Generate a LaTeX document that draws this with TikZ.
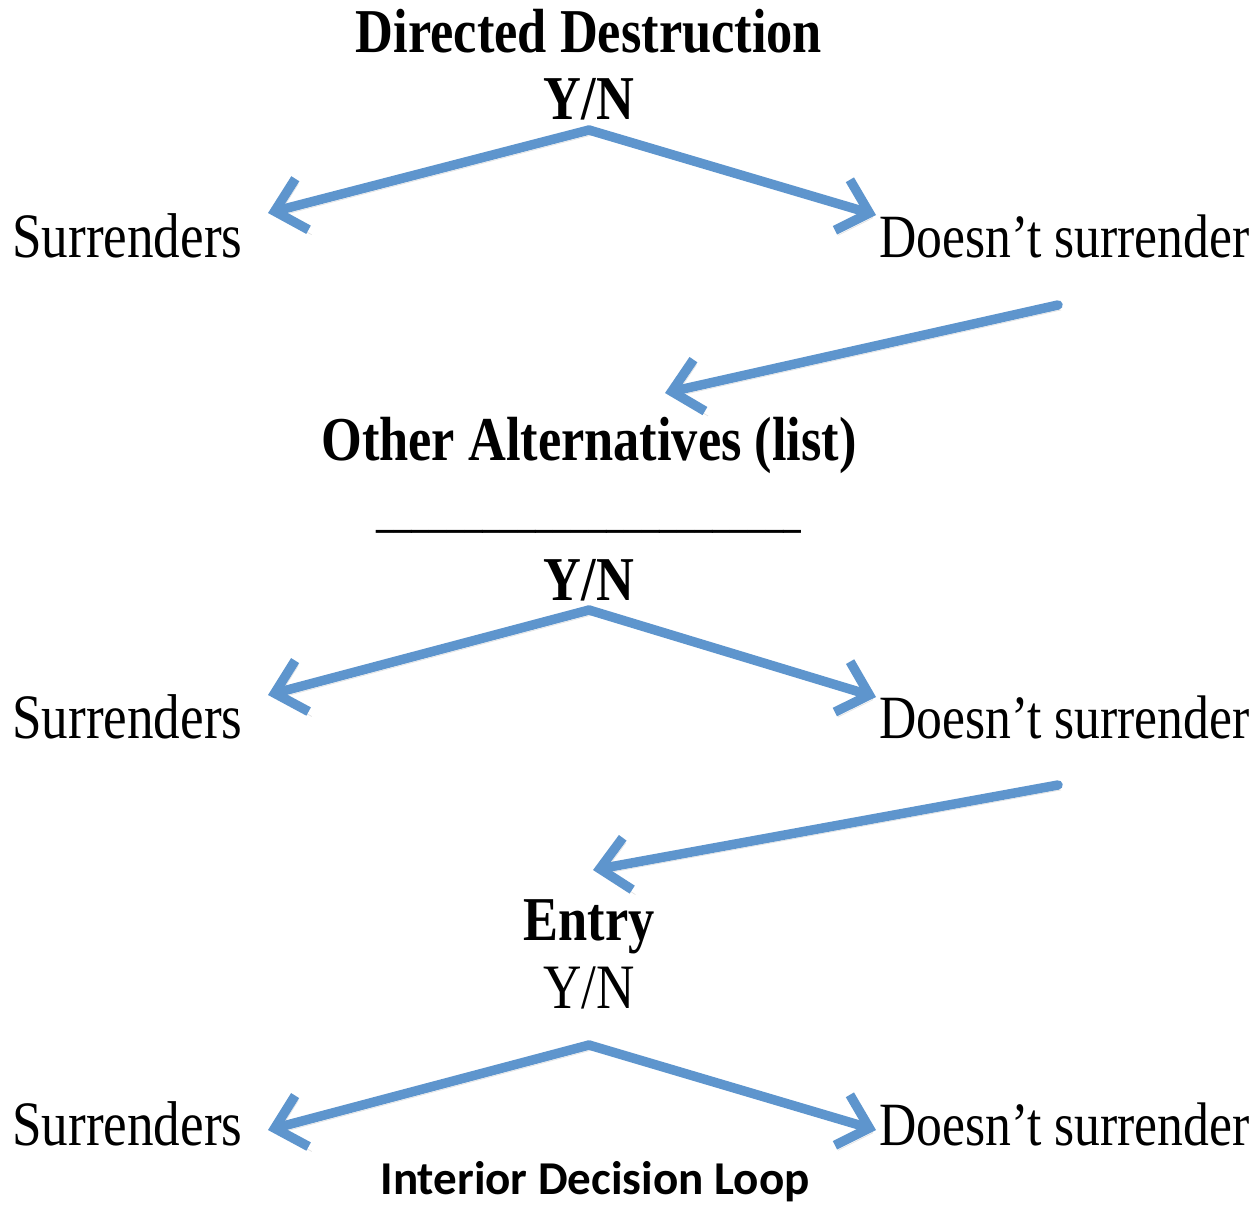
\documentclass[tikz,border=0pt]{standalone}
\usepackage{fontspec}
\setmainfont[FakeStretch=0.84]{Liberation Serif}
\newfontfamily\capfont{Carlito}
\usetikzlibrary{arrows.meta}
\definecolor{arrowblue}{HTML}{5E95CD}
\definecolor{shade}{HTML}{8C8C8C}
\tikzset{
  choice/.style={draw=arrowblue, line width=5.4pt, line cap=round, line join=round,
    -{Straight Barb[length=16pt,width=30pt]},
    preaction={draw=shade, opacity=0.25, transform canvas={shift={(1.8pt,-2.8pt)}}}},
  head/.style={anchor=base, inner sep=0pt, font=\fontsize{35.5}{42}\selectfont\bfseries},
  opt/.style={anchor=base, inner sep=0pt, font=\fontsize{36}{43}\selectfont},
  refuse/.style={opt, anchor=base east, font=\fontsize{35}{42}\selectfont},
  blank/.style={anchor=base, inner sep=0pt, font=\fontsize{24}{28}\selectfont\bfseries},
  caption/.style={anchor=base, inner sep=0pt, font=\fontsize{26.8}{32}\selectfont\capfont\bfseries},
}

\begin{document}
\begin{tikzpicture}[x=0.02cm, y=-0.02cm]
  \useasboundingbox (0,0) rectangle (1257,1205);

  % first decision
  \node[head] (title) at (589,52) {Directed Destruction};
  \node[head] (yn1) at (589,119) {Y/N};
  \node[opt, anchor=base west] (sur1) at (12,257) {Surrenders};
  \node[refuse] (not1) at (1250,257) {Doesn’t surrender};
  \coordinate (top1) at (589,130);
  \coordinate (tipL1) at (268,213);
  \coordinate (tipR1) at (876,215);
  \draw[choice] (top1) -- (tipL1);
  \draw[choice] (top1) -- (tipR1);

  % other alternatives
  \coordinate (from1) at (1058,305);
  \coordinate (tipA) at (665,393);
  \draw[choice] (from1) -- (tipA);
  \node[head] (alt) at (589,460) {Other Alternatives (list)};
  \node[blank] (line) at (589,527) {\_\_\_\_\_\_\_\_\_\_\_\_\_\_\_\_\_\_\_\_\_\_\_\_};
  \node[head] (yn2) at (589,600) {Y/N};
  \node[opt, anchor=base west] (sur2) at (12,738) {Surrenders};
  \node[refuse] (not2) at (1250,738) {Doesn’t surrender};
  \coordinate (top2) at (589,610);
  \coordinate (tipL2) at (268,695);
  \coordinate (tipR2) at (876,697);
  \draw[choice] (top2) -- (tipL2);
  \draw[choice] (top2) -- (tipR2);

  % entry
  \coordinate (from2) at (1058,785);
  \coordinate (tipE) at (593,870);
  \draw[choice] (from2) -- (tipE);
  \node[head] (entry) at (589,940) {Entry};
  \node[opt] (yn3) at (589,1008) {Y/N};
  \node[opt, anchor=base west] (sur3) at (12,1145) {Surrenders};
  \node[refuse] (not3) at (1250,1145) {Doesn’t surrender};
  \coordinate (top3) at (589,1045);
  \coordinate (tipL3) at (268,1130);
  \coordinate (tipR3) at (876,1130);
  \draw[choice] (top3) -- (tipL3);
  \draw[choice] (top3) -- (tipR3);

  \node[caption] (loop) at (595,1194) {Interior Decision Loop};
\end{tikzpicture}
\end{document}
